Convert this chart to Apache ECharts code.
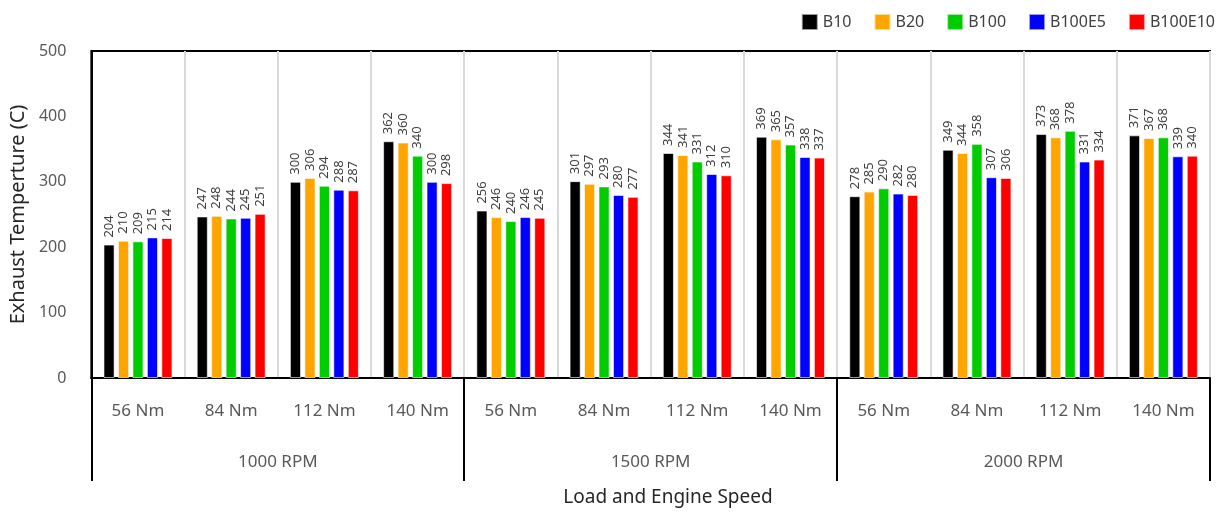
<!DOCTYPE html>
<html>
<head>
<meta charset="utf-8">
<script src="https://cdn.jsdelivr.net/npm/echarts@6/dist/echarts.min.js"></script>
<style>html,body{margin:0;padding:0;background:#fff}#c{width:1230px;height:514px}</style>
</head>
<body>
<div id="c"></div>
<script>
const loads = ['56 Nm','84 Nm','112 Nm','140 Nm','56 Nm','84 Nm','112 Nm','140 Nm','56 Nm','84 Nm','112 Nm','140 Nm'];
const speeds = ['1000 RPM','1500 RPM','2000 RPM'];
const seriesNames = ['B10','B20','B100','B100E5','B100E10'];
const B10     = [204,247,300,362, 256,301,344,369, 278,349,373,371];
const B20     = [210,248,306,360, 246,297,341,365, 285,344,368,367];
const B100    = [209,244,294,340, 240,293,331,357, 290,358,378,368];
const B100E5  = [215,245,288,300, 246,280,312,338, 282,307,331,339];
const B100E10 = [214,251,287,298, 245,277,310,337, 280,306,334,340];
const yTicks = [0,100,200,300,400,500];

const colors = ['#000000','#FFA500','#00CC00','#0000FF','#FF0000'];
const values = [B10,B20,B100,B100E5,B100E10];
const font = 'Noto Sans';

const chart = echarts.init(document.getElementById('c'));
chart.setOption({
  animation:false,
  textStyle:{fontFamily:font},
  color:colors,
  title:{text:'Load and Engine Speed',left:663,top:483,textAlign:'center',
    textStyle:{fontFamily:font,fontSize:19,fontWeight:'normal',color:'#262626'}},
  legend:{data:seriesNames,right:10,top:8,icon:'rect',itemWidth:16,itemHeight:16,itemGap:22,
    textStyle:{fontFamily:font,fontSize:16,color:'#404040'}},
  grid:{left:91,right:20,top:51,bottom:136,show:true,borderColor:'#000',borderWidth:2,backgroundColor:'transparent'},
  xAxis:[
    {type:'category',data:loads,position:'bottom',
      axisLine:{show:true,lineStyle:{color:'#000',width:2}},
      axisTick:{show:false},
      splitLine:{show:true,lineStyle:{color:'#d9d9d9',width:2}},
      axisLabel:{interval:0,margin:25,fontSize:17,color:'#595959',fontFamily:font}},
    {type:'category',data:speeds,position:'bottom',
      axisLine:{show:false},
      axisTick:{show:true,length:103,lineStyle:{color:'#000',width:2}},
      axisLabel:{interval:0,margin:76,fontSize:17,color:'#595959',fontFamily:font}}
  ],
  yAxis:{type:'value',min:yTicks[0],max:yTicks[yTicks.length-1],interval:100,
    name:'Exhaust Temperture (C)',nameLocation:'middle',nameGap:60,
    nameTextStyle:{fontFamily:font,fontSize:20,color:'#262626'},
    axisLine:{show:true,lineStyle:{color:'#000',width:2}},
    axisTick:{show:false},splitLine:{show:false},
    axisLabel:{margin:25,fontSize:16,color:'#595959',fontFamily:font}},
  series: seriesNames.map((n,i)=>({
    name:n,type:'bar',xAxisIndex:0,data:values[i],
    barCategoryGap:'26%',barGap:'30%',
    itemStyle:{color:colors[i],borderColor:'rgba(255,255,255,0.6)',borderWidth:1},
    label:{show:true,position:'top',rotate:90,align:'left',verticalAlign:'middle',distance:7,
      fontSize:13,color:'#404040',fontFamily:font}
  }))
});
</script>
</body>
</html>
